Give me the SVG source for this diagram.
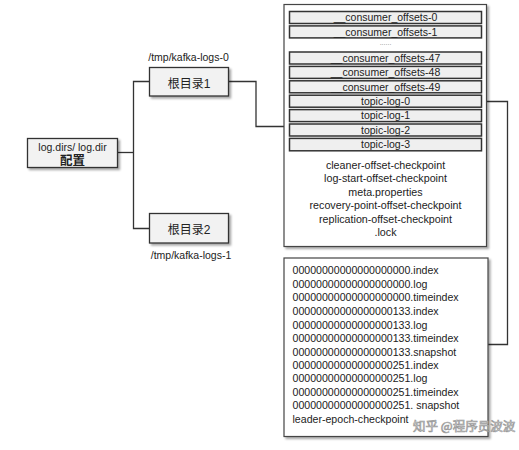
<svg xmlns="http://www.w3.org/2000/svg" width="519" height="450" viewBox="0 0 519 450">
<style>
.t{font-family:"Liberation Sans",Arial,sans-serif;fill:#222;}
.c{font-family:"Liberation Sans","Noto Sans CJK SC",sans-serif;fill:#222;}
.box{fill:#f2f2f2;stroke:#333;stroke-width:1.3;}
.outer{fill:#fff;stroke:#444;stroke-width:1.2;}
.row{fill:#efefef;stroke:#333;stroke-width:1.5;}
.ln{fill:none;stroke:#333;stroke-width:1.3;}
</style>
<defs>
<filter id="sh" x="-10%" y="-10%" width="130%" height="130%">
<feDropShadow dx="2" dy="2" stdDeviation="1.2" flood-color="#000" flood-opacity="0.35"/>
</filter>
</defs>
<rect width="519" height="450" fill="#fff"/>
<g id="connectors">
<polyline class="ln" points="117.5,152.5 133.5,152.5"/>
<polyline class="ln" points="149.5,81.5 133.5,81.5 133.5,228.5 149.5,228.5"/>
<polyline class="ln" points="228.5,81.5 256,81.5 256,126.5 284,126.5"/>
<polyline class="ln" points="482,101.5 507.5,101.5 507.5,344.5 488,344.5"/>
</g>
<g id="config">
<rect class="box" x="27.5" y="138.5" width="90" height="29" filter="url(#sh)"/>
<text class="t" x="72.5" y="151" font-size="10.5" text-anchor="middle">log.dirs/ log.dir</text>
<text class="c" x="72.5" y="165" font-size="12.5" font-weight="bold" text-anchor="middle">配置</text>
</g>
<g id="root1">
<text class="t" x="188.5" y="60.5" font-size="10.5" text-anchor="middle">/tmp/kafka-logs-0</text>
<rect class="box" x="149.5" y="67.5" width="79" height="28.5" filter="url(#sh)"/>
<text class="c" x="189" y="87.5" font-size="12" text-anchor="middle">根目录1</text>
</g>
<g id="root2">
<rect class="box" x="149.5" y="213.5" width="79" height="29.5" filter="url(#sh)"/>
<text class="c" x="189" y="233.5" font-size="12" text-anchor="middle">根目录2</text>
<text class="t" x="191" y="259" font-size="10.5" text-anchor="middle">/tmp/kafka-logs-1</text>
</g>
<g id="logdir">
<rect class="outer" x="284" y="4.5" width="202.5" height="242" filter="url(#sh)"/>
<g font-size="10.5" text-anchor="middle">
<rect class="row" x="289.5" y="11.5" width="192" height="12"/>
<text class="t" x="385.5" y="21.3">__consumer_offsets-0</text>
<rect class="row" x="289.5" y="25.9" width="192" height="12"/>
<text class="t" x="385.5" y="35.7">__consumer_offsets-1</text>
<text class="t" x="385.5" y="45" font-size="7" style="fill:#888">......</text>
<rect class="row" x="289.5" y="52" width="192" height="12"/>
<text class="t" x="385.5" y="61.8">__consumer_offsets-47</text>
<rect class="row" x="289.5" y="66.4" width="192" height="12"/>
<text class="t" x="385.5" y="76.2">__consumer_offsets-48</text>
<rect class="row" x="289.5" y="80.8" width="192" height="12"/>
<text class="t" x="385.5" y="90.6">__consumer_offsets-49</text>
<rect class="row" x="289.5" y="95.2" width="192" height="12"/>
<text class="t" x="385.5" y="105">topic-log-0</text>
<rect class="row" x="289.5" y="109.6" width="192" height="12"/>
<text class="t" x="385.5" y="119.4">topic-log-1</text>
<rect class="row" x="289.5" y="124" width="192" height="12"/>
<text class="t" x="385.5" y="133.8">topic-log-2</text>
<rect class="row" x="289.5" y="138.4" width="192" height="12.4"/>
<text class="t" x="385.5" y="148.3">topic-log-3</text>
</g>
<g font-size="10.7" text-anchor="middle">
<text class="t" x="385.5" y="168.7">cleaner-offset-checkpoint</text>
<text class="t" x="385.5" y="182.2">log-start-offset-checkpoint</text>
<text class="t" x="385.5" y="196.2">meta.properties</text>
<text class="t" x="385.5" y="208.8">recovery-point-offset-checkpoint</text>
<text class="t" x="385.5" y="223">replication-offset-checkpoint</text>
<text class="t" x="385.5" y="236">.lock</text>
</g>
</g>
<g id="segments">
<rect class="outer" x="284" y="258" width="204" height="178.5" filter="url(#sh)"/>
<g font-size="10.6">
<text class="t" x="292.5" y="273.8">00000000000000000000.index</text>
<text class="t" x="292.5" y="287.6">00000000000000000000.log</text>
<text class="t" x="292.5" y="301.3">00000000000000000000.timeindex</text>
<text class="t" x="292.5" y="314.8">00000000000000000133.index</text>
<text class="t" x="292.5" y="328.5">00000000000000000133.log</text>
<text class="t" x="292.5" y="342">00000000000000000133.timeindex</text>
<text class="t" x="292.5" y="355.5">00000000000000000133.snapshot</text>
<text class="t" x="292.5" y="368.8">00000000000000000251.index</text>
<text class="t" x="292.5" y="382.2">00000000000000000251.log</text>
<text class="t" x="292.5" y="395.9">00000000000000000251.timeindex</text>
<text class="t" x="292.5" y="409.4">00000000000000000251. snapshot</text>
<text class="t" x="292.5" y="423">leader-epoch-checkpoint</text>
</g>
</g>
<text x="413" y="431" font-family="'Noto Sans CJK SC',sans-serif" font-size="12.5" fill="#fff" fill-opacity="0.85" stroke="#999" stroke-width="0.7">知乎 @程序员波波</text>
</svg>
